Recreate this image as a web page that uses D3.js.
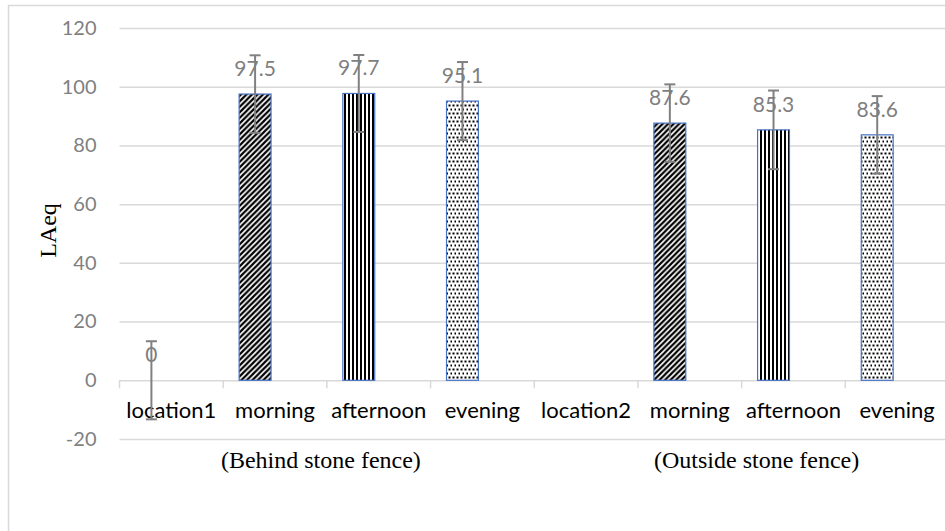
<!DOCTYPE html>
<html>
<head>
<meta charset="utf-8">
<script src="https://cdn.jsdelivr.net/npm/d3@7"></script>
<style>
  body { margin: 0; background: #fff; }
  svg { display: block; }
</style>
</head>
<body>
<div id="chart"></div>
<script>
// data
const categories = ["location1", "morning", "afternoon", "evening", "location2", "morning", "afternoon", "evening"];
const patterns = ["none", "diag", "vert", "dots", "none", "diag", "vert", "dots"];
const values = [0, 97.5, 97.7, 95.1, null, 87.6, 85.3, 83.6];
const errors = [13.3, 13.2, 13.1, 13.3, 0, 13.2, 13.4, 13.2];
const groups = ["(Behind stone fence)", "(Outside stone fence)"];
const yTicks = [-20, 0, 20, 40, 60, 80, 100, 120];

const W = 945, H = 531;
const margin = { top: 28, left: 119.5, right: -4, bottom: 92 };
const grey = "#d9d9d9";
const textGrey = "#7f7f7f";
const sans = "Lato, 'Open Sans', sans-serif";
const serif = "'Liberation Serif', 'DejaVu Serif', serif";

const svg = d3.select("#chart").append("svg")
  .attr("width", W)
  .attr("height", H);

// patterns like the Excel fills
const defs = svg.append("defs");
const pDiag = defs.append("pattern").attr("id", "diag")
  .attr("patternUnits", "userSpaceOnUse").attr("width", 5.5).attr("height", 5.5);
pDiag.append("rect").attr("width", 5.5).attr("height", 5.5).attr("fill", "#fff");
pDiag.append("path").attr("d", "M-1.5,1.5 L1.5,-1.5 M0,5.5 L5.5,0 M4,7 L7,4")
  .attr("stroke", "#000").attr("stroke-width", 2.2);

const pVert = defs.append("pattern").attr("id", "vert")
  .attr("patternUnits", "userSpaceOnUse").attr("width", 4).attr("height", 4);
pVert.append("rect").attr("width", 4).attr("height", 4).attr("fill", "#fff");
pVert.append("rect").attr("width", 2).attr("height", 4).attr("fill", "#000");

const pDots = defs.append("pattern").attr("id", "dots")
  .attr("patternUnits", "userSpaceOnUse").attr("width", 4).attr("height", 8);
pDots.append("rect").attr("width", 4).attr("height", 8).attr("fill", "#fff");
pDots.append("rect").attr("x", 0.5).attr("y", 0.5).attr("width", 2).attr("height", 2).attr("fill", "#000");
pDots.append("rect").attr("x", 2.5).attr("y", 4.5).attr("width", 2).attr("height", 2).attr("fill", "#000");

// outer chart frame
svg.append("rect")
  .attr("x", 8.5).attr("y", 5.5)
  .attr("width", W + 10).attr("height", H + 10)
  .attr("fill", "none")
  .attr("stroke", grey)
  .attr("stroke-width", 1.5);

const x = d3.scaleBand()
  .domain(d3.range(categories.length))
  .range([margin.left, W - margin.right]);

const inner = d3.scaleBand()
  .domain(["value", "blank"])
  .range([0, x.bandwidth()])
  .paddingInner(0.2)
  .paddingOuter(0.4);

const y = d3.scaleLinear()
  .domain([-20, 120])
  .range([H - margin.bottom, margin.top]);

// y axis + gridlines
const yAxis = svg.append("g")
  .attr("transform", `translate(${margin.left},0)`)
  .call(d3.axisLeft(y).tickValues(yTicks).tickFormat(d => String(d))
    .tickSizeInner(-(W - margin.left + 10)).tickSizeOuter(0).tickPadding(23));
yAxis.select(".domain").remove();
yAxis.selectAll(".tick line").attr("stroke", grey).attr("stroke-width", 1.5);
yAxis.selectAll(".tick text")
  .attr("fill", textGrey)
  .style("font-family", sans)
  .style("font-size", "20px");

// zero line tick marks at band edges
const edges = d3.range(categories.length + 1).map(i => i < categories.length ? x(i) : x(i - 1) + x.bandwidth());
svg.append("g").selectAll("line")
  .data(edges)
  .join("line")
  .attr("x1", d => d).attr("x2", d => d)
  .attr("y1", y(0)).attr("y2", y(0) + 8)
  .attr("stroke", grey)
  .attr("stroke-width", 1.5);

// bars
const barX = i => x(i) + inner("value");
svg.append("g").selectAll("rect")
  .data(values.map((v, i) => ({ v, i })).filter(d => d.v !== null && d.v > 0))
  .join("rect")
  .attr("x", d => barX(d.i))
  .attr("y", d => y(d.v))
  .attr("width", inner.bandwidth())
  .attr("height", d => y(0) - y(d.v))
  .attr("fill", d => `url(#${patterns[d.i]})`)
  .attr("stroke", "#4472c4")
  .attr("stroke-width", 1.2);

// category labels
svg.append("g").selectAll("text")
  .data(categories)
  .join("text")
  .attr("x", (d, i) => x(i) + x.bandwidth() / 2)
  .attr("y", y(0) + 38)
  .attr("text-anchor", "middle")
  .attr("fill", "#000")
  .style("font-family", sans)
  .style("font-size", "22px")
  .text(d => d);

// error bars
const withErr = values.map((v, i) => ({ v, i, e: errors[i] })).filter(d => d.v !== null && d.e > 0);
const eb = svg.append("g").attr("stroke", "#808080").attr("stroke-width", 2);
withErr.forEach(d => {
  const cx = barX(d.i) + inner.bandwidth() / 2;
  eb.append("line").attr("x1", cx).attr("x2", cx).attr("y1", y(d.v + d.e)).attr("y2", y(d.v - d.e));
  eb.append("line").attr("x1", cx - 5.5).attr("x2", cx + 5.5).attr("y1", y(d.v + d.e)).attr("y2", y(d.v + d.e));
  eb.append("line").attr("x1", cx - 5.5).attr("x2", cx + 5.5).attr("y1", y(d.v - d.e)).attr("y2", y(d.v - d.e));
});

// data labels
svg.append("g").selectAll("text")
  .data(values.map((v, i) => ({ v, i })).filter(d => d.v !== null))
  .join("text")
  .attr("x", d => barX(d.i) + inner.bandwidth() / 2)
  .attr("y", d => y(d.v) - 18)
  .attr("text-anchor", "middle")
  .attr("fill", textGrey)
  .style("font-family", sans)
  .style("font-size", "21px")
  .text(d => d.v);

// group labels
const mid = (a, b) => (x(a) + x(b) + x.bandwidth()) / 2;
svg.append("text")
  .attr("x", mid(0, 3) - 6)
  .attr("y", y(-20) + 29)
  .attr("text-anchor", "middle")
  .style("font-family", serif)
  .style("font-size", "24px")
  .text(groups[0]);
svg.append("text")
  .attr("x", mid(4, 7) + 15)
  .attr("y", y(-20) + 29)
  .attr("text-anchor", "middle")
  .style("font-family", serif)
  .style("font-size", "24px")
  .text(groups[1]);

// y title
svg.append("text")
  .attr("transform", `translate(56,${(y(-20) + y(120)) / 2 - 3}) rotate(-90)`)
  .attr("text-anchor", "middle")
  .style("font-family", serif)
  .style("font-size", "24px")
  .text("LAeq");
</script>
</body>
</html>
